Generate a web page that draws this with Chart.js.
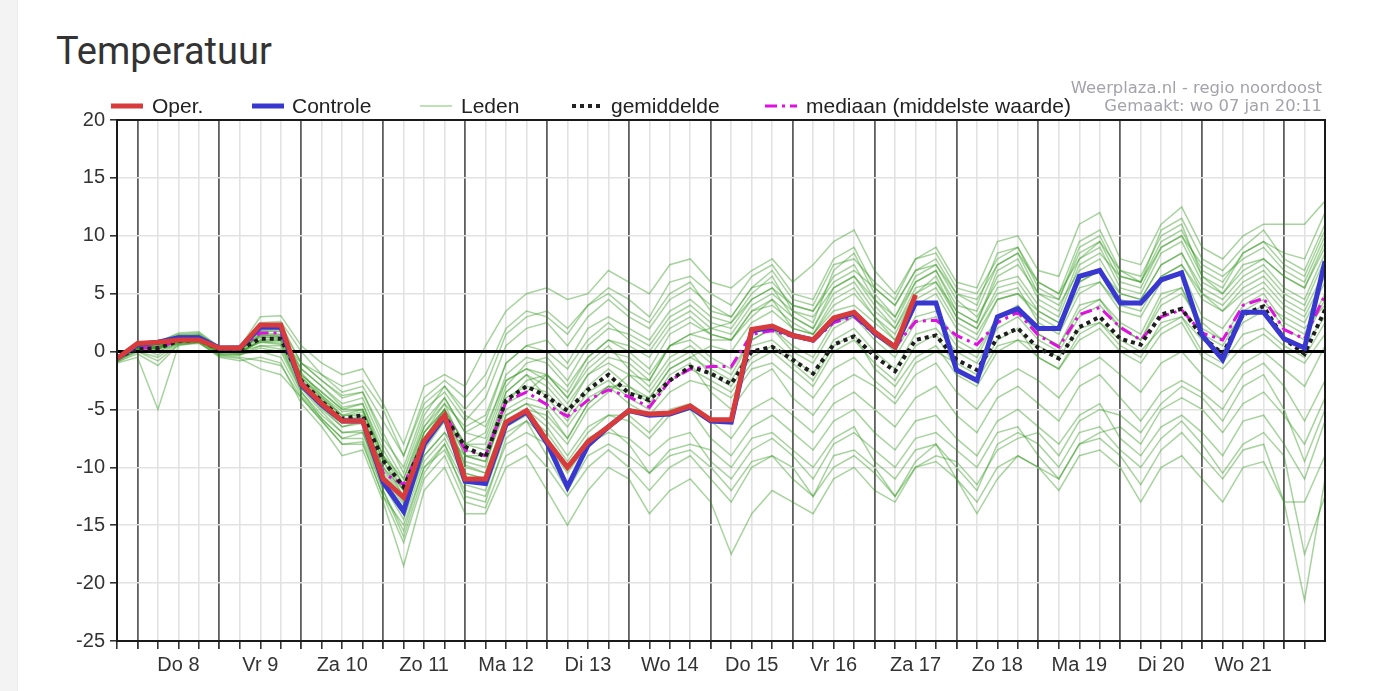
<!DOCTYPE html>
<html>
<head>
<meta charset="utf-8">
<script src="https://cdn.jsdelivr.net/npm/chart.js@4.4.1/dist/chart.umd.min.js"></script>
<style>
  html, body { margin: 0; padding: 0; background: #fff; }
  body { width: 1391px; height: 691px; position: relative; overflow: hidden; }
  .strip { position: absolute; left: 0; top: 0; width: 17px; height: 691px; background: #f3f3f3; border-right: 1px solid #ececec; }
  h1 { position: absolute; left: 56px; top: 29px; margin: 0; font: 400 38px Roboto, sans-serif; color: #333; }
  .wrap { position: absolute; left: 0; top: 0; width: 1391px; height: 691px; }
  .leg { position: absolute; top: 94px; height: 24px; line-height: 24px; font: 21px "Liberation Sans", Arial, sans-serif; color: #222; white-space: nowrap; }
  .leg svg { position: absolute; top: 0; }
  .src { position: absolute; right: 69px; font: 16.4px "DejaVu Sans", sans-serif; color: #a3a3ab; text-align: right; white-space: nowrap; }
</style>
</head>
<body>
<div class="strip"></div>
<h1>Temperatuur</h1>
<div class="wrap"><canvas id="tempChart"></canvas></div>

<div class="leg" style="left:111px"><svg width="32" height="24"><line x1="0" y1="12" x2="32" y2="12" stroke="#d73b3b" stroke-width="5"/></svg><span style="margin-left:41px">Oper.</span></div>
<div class="leg" style="left:252px"><svg width="32" height="24"><line x1="0" y1="12" x2="32" y2="12" stroke="#3838d0" stroke-width="5"/></svg><span style="margin-left:40px">Controle</span></div>
<div class="leg" style="left:420px"><svg width="32" height="24"><line x1="0" y1="12" x2="32" y2="12" stroke="#a8d89a" stroke-width="1.5"/></svg><span style="margin-left:41px">Leden</span></div>
<div class="leg" style="left:572px"><svg width="32" height="24"><line x1="0" y1="12" x2="32" y2="12" stroke="#222" stroke-width="4" stroke-dasharray="4 4"/></svg><span style="margin-left:39px">gemiddelde</span></div>
<div class="leg" style="left:765px"><svg width="32" height="24"><line x1="0" y1="12" x2="32" y2="12" stroke="#e010e0" stroke-width="3" stroke-dasharray="12 5 3 5"/></svg><span style="margin-left:41px">mediaan (middelste waarde)</span></div>

<div class="src" style="top:78px">Weerplaza.nl - regio noordoost</div>
<div class="src" style="top:96px">Gemaakt: wo 07 jan 20:11</div>

<script>
// tijdstappen: elke 6 uur, vanaf wo 7 jan 18:00
const steps = 60;
const dayLabels = ['Do 8', 'Vr 9', 'Za 10', 'Zo 11', 'Ma 12', 'Di 13', 'Wo 14',
  'Do 15', 'Vr 16', 'Za 17', 'Zo 18', 'Ma 19', 'Di 20', 'Wo 21'];
const yTicks = [-25, -20, -15, -10, -5, 0, 5, 10, 15, 20];

// operationele run (stopt za 17 12:00)
const oper = [-0.6, 0.7,0.8,1.0,1.0, 0.3,0.3,2.3,2.3, -2.8,-4.5,-6.0,-6.0,
  -11.0,-12.6,-7.7,-5.5, -11.0,-11.0,-6.1,-5.1, -7.7,-10.0,-7.8,-6.5,
  -5.1,-5.4,-5.3,-4.7, -5.9,-5.9,1.9,2.2, 1.4,1.0,2.9,3.4, 1.7,0.4,4.9];

const controle = [-0.6, 0.6,0.8,1.2,1.2, 0.3,0.3,2.1,2.1, -2.9,-4.6,-6.0,-6.0,
  -11.3,-13.8,-8.0,-5.6, -11.2,-11.4,-6.3,-5.2, -7.9,-11.7,-8.1,-6.5,
  -5.1,-5.5,-5.4,-4.8, -6.0,-6.1,1.8,2.1, 1.4,1.0,2.8,3.3, 1.6,0.4,4.2,
  4.2,-1.6,-2.5,3.0, 3.7,2.0,2.0,6.5, 7.0,4.2,4.2,6.2, 6.8,1.4,-0.7,3.4,
  3.4,1.1,0.3,7.8];

const gemiddelde = [-0.5, 0.2,0.3,0.9,1.0, 0.2,0.2,1.1,1.1, -2.5,-4.3,-5.8,-5.5,
  -9.4,-11.7,-7.7,-5.6, -8.2,-9.1,-4.2,-3.0, -3.9,-5.1,-3.3,-2.0,
  -3.6,-4.2,-2.5,-1.3, -1.9,-2.8,0.0,0.4, -0.7,-1.9,0.6,1.3, -0.4,-1.7,1.0,
  1.4,-0.7,-1.6,1.2, 2.0,0.3,-0.6,2.1, 3.0,1.1,0.6,3.2, 3.7,1.3,-0.2,3.2,
  3.9,1.1,-0.2,3.6];

const mediaan = [-0.5, 0.3,0.3,1.0,1.1, 0.3,0.3,1.6,1.6, -2.6,-4.5,-6.0,-6.0,
  -10.5,-11.5,-7.7,-5.3, -8.5,-9.0,-4.3,-3.5, -4.6,-5.6,-4.2,-3.3,
  -3.9,-4.8,-2.5,-1.5, -1.3,-1.3,1.5,1.8, 1.3,0.9,2.5,3.0, 1.5,0.4,2.6,
  2.7,1.4,0.6,2.5, 3.4,1.4,0.4,3.2, 3.8,2.1,1.0,3.0, 3.6,1.6,1.0,4.0,
  4.6,1.9,1.1,4.9];

// ensembleleden
const leden = [
  [-0.8, 0.8,0.9,1.5,1.6, 0.3,0.4,3.0,3.1, 0.5,-1.0,-2.0,-1.5, -4.5,-8.0,-3.0,-2.0,
   -3.0,0.5,3.5,5.0, 5.5,4.5,5.0,7.0, 6.0,5.0,7.5,8.0, 6.0,5.5,7.0,8.0,
   6.0,7.5,9.5,10.5, 7.0,5.0,8.0,9.0, 6.0,5.5,9.5,10.0, 7.0,6.5,11.0,12.0,
   8.0,7.5,11.0,12.5, 9.0,8.0,10.0,11.0, 11.0,11.0,13.0],
  [-0.7, 0.6,0.7,1.3,1.4, 0.1,0.2,2.5,2.6, 0.0,-2.0,-3.5,-3.0, -6.0,-9.0,-4.0,-2.5,
   -4.0,-2.0,2.0,3.5, 3.0,1.5,4.0,5.5, 4.5,3.0,6.0,6.5, 5.0,4.0,6.5,7.5,
   5.0,4.5,8.0,9.0, 5.5,4.0,7.0,8.0, 5.0,4.0,8.5,9.0, 6.0,5.0,9.5,10.5,
   7.0,6.0,10.5,11.5, 8.0,7.0,9.0,10.5, 8.0,7.0,11.0],
  [-0.5, 0.7,0.6,1.4,1.5, 0.4,0.3,2.0,2.1, -1.0,-2.5,-4.0,-3.5, -7.5,-10.0,-5.0,-3.5,
   -6.0,-4.0,0.5,2.0, 2.5,0.5,3.0,4.5, 3.0,2.0,4.5,5.5, 4.0,3.0,5.5,6.0,
   4.0,3.5,6.5,7.5, 4.5,2.5,6.0,7.0, 3.5,2.5,7.0,8.0, 4.5,3.5,8.0,9.0,
   5.5,5.0,8.5,9.5, 6.0,5.0,7.5,8.0, 6.5,5.5,9.5],
  [-0.6, 0.4,0.5,1.1,1.2, 0.2,0.1,1.8,1.7, -1.5,-3.0,-4.5,-4.0, -8.0,-11.0,-6.5,-4.0,
   -7.0,-6.0,-1.0,0.5, 1.0,-1.0,2.0,3.0, 2.0,1.0,3.5,4.5, 3.0,2.5,5.0,6.5,
   3.5,2.5,7.0,8.5, 5.0,3.0,6.5,7.5, 4.5,3.0,6.0,6.5, 4.0,3.0,7.5,8.5,
   6.5,6.0,9.0,10.0, 7.5,6.5,8.0,9.0, 7.0,6.0,10.0],
  [-0.8, 0.3,0.2,1.0,1.1, -0.2,-0.2,1.0,1.0, -2.0,-3.5,-5.0,-5.0, -9.0,-12.0,-7.5,-5.0,
   -8.0,-8.0,-3.0,-1.0, -0.5,-2.5,0.5,2.0, 1.5,0.5,3.0,4.0, 2.5,2.0,4.5,5.5,
   3.0,2.0,5.5,6.5, 4.0,2.0,5.0,6.5, 3.0,2.0,5.5,6.0, 3.5,2.5,6.0,7.0,
   5.0,4.5,7.5,8.5, 5.0,4.0,6.0,7.0, 5.0,4.0,8.0],
  [-0.6, 0.5,0.4,1.2,1.3, 0.3,0.3,1.6,1.5, -1.8,-3.8,-5.5,-5.0, -9.5,-12.5,-8.0,-5.5,
   -9.0,-9.5,-4.5,-2.5, -2.0,-3.5,-0.5,1.0, 0.5,-0.5,2.0,3.0, 1.5,1.0,3.5,4.0,
   2.5,1.5,4.5,5.5, 3.0,1.0,4.5,5.5, 2.5,1.5,4.5,5.0, 3.0,2.0,5.5,6.0,
   4.0,3.5,6.5,7.5, 4.5,3.5,5.0,6.0, 4.0,3.0,6.5],
  [-0.7, 0.6,0.7,1.3,1.3, 0.4,0.4,2.2,2.2, -2.5,-4.2,-5.8,-5.8, -10.5,-13.0,-7.5,-5.0,
   -10.0,-10.5,-5.5,-4.5, -6.0,-8.0,-5.0,-3.5, -2.0,-2.5,0.5,1.5, 2.0,1.5,4.0,5.0,
   3.5,3.0,5.5,6.5, 4.5,3.0,6.0,7.0, 4.0,3.5,7.5,8.5, 6.0,5.0,8.0,9.5,
   6.0,5.5,9.0,10.0, 6.5,5.0,7.0,8.0, 6.5,5.5,9.0],
  [-0.5, 0.5,0.6,1.4,1.4, 0.2,0.3,1.8,1.8, -2.2,-4.0,-5.5,-5.5, -10.0,-12.0,-7.0,-4.5,
   -8.5,-9.0,-3.5,-2.0, -3.0,-5.0,-2.0,-0.5, -1.0,-2.5,0.5,1.5, 1.0,1.0,3.5,4.5,
   2.0,1.5,4.0,5.0, 3.0,1.5,5.0,6.0, 3.5,2.5,6.5,7.5, 5.0,4.0,7.0,8.0,
   5.0,4.5,7.5,8.5, 5.5,4.5,6.5,7.5, 5.5,4.5,8.5],
  [-0.6, 0.6,0.6,1.3,1.4, 0.3,0.2,2.0,1.9, -2.6,-4.4,-6.0,-5.9, -10.8,-13.2,-7.8,-5.6,
   -10.5,-11.0,-6.0,-5.0, -5.5,-7.5,-4.5,-3.0, -3.5,-4.0,-1.5,-0.5, 0.5,0.0,2.5,3.5,
   2.0,1.5,3.5,4.0, 2.5,1.0,4.0,5.0, 2.0,1.0,4.5,5.0, 3.5,2.5,6.0,7.0,
   4.5,4.0,6.5,7.5, 5.0,3.5,5.5,6.5, 4.5,3.5,7.0],
  [-0.7, 0.5,0.4,1.1,1.2, 0.1,0.1,1.5,1.4, -1.5,-3.0,-4.8,-4.5, -8.5,-11.5,-6.5,-4.5,
   -6.5,-5.5,-1.0,0.5, 0.0,-1.5,1.0,2.5, 1.0,0.0,2.5,3.5, 2.0,2.5,4.5,5.5,
   4.0,3.5,6.0,7.0, 5.5,4.0,7.0,7.5, 5.0,4.5,7.5,8.5, 5.0,4.5,8.5,9.5,
   7.0,6.5,10.0,11.0, 6.5,5.5,8.5,9.5, 8.5,8.0,12.0],
  [-0.5, 0.7,0.8,1.6,1.7, 0.4,0.5,2.4,2.4, -1.0,-2.5,-3.8,-3.5, -7.0,-10.5,-5.5,-3.0,
   -5.0,-3.0,1.5,3.0, 3.5,2.0,4.0,5.0, 3.5,2.5,5.0,6.0, 3.5,3.0,5.5,7.0,
   4.5,4.0,7.5,8.0, 6.0,4.5,8.0,8.5, 5.5,5.0,8.0,9.0, 5.5,4.5,9.0,10.0,
   6.5,6.0,9.5,10.5, 7.0,6.0,8.5,9.5, 7.5,6.5,10.5],
  [-0.6, 0.3,0.3,1.0,1.1, 0.0,0.1,1.4,1.3, -2.2,-3.8,-5.2,-5.0, -9.0,-11.5,-7.0,-5.0,
   -8.0,-7.0,-2.0,-0.5, -1.0,-3.0,-0.5,1.0, 0.0,-1.5,1.5,2.5, 1.5,1.0,3.0,4.5,
   3.0,2.0,5.0,6.0, 3.5,2.0,5.5,6.0, 3.0,2.0,5.0,5.5, 2.5,1.5,5.0,6.0,
   3.5,3.0,6.0,7.0, 3.0,2.0,4.5,5.5, 3.5,2.5,6.0],
  [-0.6, 0.4,0.4,1.0,1.1, 0.1,0.1,1.2,1.2, -2.8,-4.5,-6.0,-5.8, -10.0,-12.5,-8.0,-6.0,
   -9.5,-10.0,-4.0,-3.0, -3.5,-5.5,-3.0,-1.5, -3.0,-4.0,-1.5,-0.5, -1.5,-2.5,0.5,1.0,
   -0.5,-2.0,1.0,2.0, 0.0,-1.5,1.5,2.0, 0.0,-1.0,2.0,3.0, 1.0,0.0,3.0,4.0,
   2.0,1.0,4.0,5.0, 2.5,1.0,4.0,5.0, 2.5,1.5,5.0],
  [-0.5, 0.2,0.3,0.8,0.9, 0.0,0.0,0.8,0.9, -3.0,-5.0,-6.5,-6.0, -11.0,-13.5,-8.5,-6.0,
   -8.0,-8.5,-3.5,-2.0, -4.0,-6.0,-3.5,-2.5, -4.0,-5.0,-2.5,-1.5, -2.5,-3.5,-1.0,0.0,
   -1.5,-3.0,0.0,1.0, -1.0,-2.5,0.5,1.5, -1.5,-2.5,0.5,1.0, -0.5,-1.5,1.5,2.5,
   0.5,-0.5,2.5,3.0, 1.0,0.0,2.5,3.5, 1.0,0.5,3.0],
  [-0.7, 0.3,-0.3,0.8,1.0, -0.3,-0.3,0.5,0.5, -3.5,-5.5,-7.0,-7.0, -11.5,-14.0,-9.0,-7.0,
   -9.0,-9.0,-4.5,-3.5, -2.0,-4.0,-1.0,0.5, -1.5,-3.0,-0.5,0.5, -1.0,-2.0,1.0,2.0,
   0.0,-1.0,2.0,3.0, 1.0,-0.5,2.5,3.0, 0.5,-0.5,3.0,3.5, 1.5,0.5,3.5,4.5,
   2.5,1.5,5.0,5.5, 2.0,1.0,3.0,4.0, 3.0,2.0,4.0],
  [-0.6, 0.5,0.5,1.1,1.2, 0.2,0.2,1.4,1.3, -2.0,-3.5,-5.0,-4.5, -9.0,-11.0,-6.0,-4.0,
   -7.0,-7.5,-2.5,-1.5, -2.5,-4.5,-2.0,-1.0, -2.0,-3.5,-1.0,0.0, -2.0,-3.0,-0.5,0.5,
   -1.0,-2.5,0.5,1.5, -1.5,-3.0,-0.5,0.5, -2.0,-3.0,0.0,1.0, 0.5,-0.5,2.0,2.5,
   1.0,0.0,2.0,3.0, 0.0,-1.0,1.5,2.0, 0.5,-0.5,2.5],
  [-0.8, 0.1,0.0,0.7,0.8, -0.1,0.0,1.0,1.0, -2.4,-4.0,-5.6,-5.2, -9.5,-12.0,-7.0,-5.0,
   -9.0,-9.5,-5.0,-4.0, -4.5,-6.5,-4.0,-3.0, -4.5,-5.5,-3.5,-2.5, -3.0,-4.0,-1.5,-1.0,
   -2.5,-4.0,-1.5,-0.5, -2.5,-4.0,-1.0,0.0, -1.0,-2.0,1.0,2.0, -0.5,-1.5,1.0,2.0,
   0.0,-1.0,1.5,2.5, -0.5,-1.5,0.5,1.5, 0.0,-1.0,1.5],
  [-0.7, 0.4,0.2,0.9,1.0, 0.0,-0.1,0.9,0.7, -2.6,-4.2,-5.8,-5.6, -10.2,-12.8,-7.8,-5.8,
   -9.8,-10.5,-5.5,-4.5, -5.0,-7.5,-4.5,-3.0, -3.0,-4.5,-2.0,-1.0, -3.5,-5.0,-2.5,-1.5,
   -4.0,-5.5,-3.0,-2.0, -3.0,-4.5,-2.0,-1.0, -3.5,-5.0,-2.5,-1.5, -2.5,-4.0,-1.5,-0.5,
   -2.0,-3.5,-1.0,0.0, -2.0,-3.5,-1.0,0.0, -1.5,-3.0,0.5],
  [-0.5, 0.5,0.3,1.2,1.2, 0.2,0.2,1.3,1.1, -1.0,-2.0,-3.0,-2.5, -5.0,-9.0,-4.5,-3.0,
   -5.5,-6.5,-2.5,-1.5, -2.0,-4.0,-1.5,0.0, -0.5,-2.0,0.5,1.0, -0.5,-1.5,1.0,2.0,
   0.5,-0.5,2.5,3.0, 1.5,0.0,3.0,3.5, 1.0,0.0,3.0,4.0, 1.5,0.5,4.0,4.5,
   2.0,1.0,4.5,5.5, 1.5,0.5,3.5,4.5, 2.0,1.0,4.5],
  [-1.0, -0.5,-5.0,0.5,0.8, -0.5,-0.8,-0.5,-1.0, -4.5,-6.5,-9.0,-8.5, -13.0,-18.5,-12.0,-10.0,
   -14.0,-14.0,-10.0,-9.0, -12.0,-15.0,-12.0,-10.0, -11.0,-14.0,-12.0,-11.0, -13.0,-17.5,-14.0,-12.0,
   -13.0,-14.0,-11.0,-10.0, -12.0,-13.0,-10.0,-9.5, -11.0,-13.0,-10.0,-9.0, -10.0,-12.0,-9.0,-8.5,
   -10.0,-13.0,-10.0,-9.0, -11.0,-13.0,-10.0,-9.5, -13.0,-21.5,-11.0],
  [-0.9, -0.2,-1.2,0.6,0.8, -0.4,-0.6,-1.5,-2.0, -4.0,-6.0,-8.0,-8.0, -12.5,-16.5,-11.0,-9.0,
   -13.0,-13.5,-9.0,-8.0, -10.0,-12.5,-10.0,-8.5, -10.0,-12.0,-10.0,-9.0, -11.0,-13.0,-10.0,-9.0,
   -10.0,-12.5,-9.0,-8.5, -10.0,-12.5,-9.5,-8.0, -10.0,-12.0,-8.0,-7.0, -8.0,-10.0,-7.0,-6.5,
   -8.5,-10.0,-7.5,-6.0, -8.0,-10.5,-8.0,-7.0, -9.0,-17.5,-12.5],
  [-0.7, 0.0,-0.5,0.7,0.9, 0.0,-0.2,0.0,-0.5, -3.8,-5.8,-7.5,-7.5, -12.0,-15.5,-10.0,-8.5,
   -12.0,-12.5,-8.0,-7.0, -8.0,-10.5,-8.0,-7.0, -7.5,-9.0,-7.5,-7.0, -9.5,-11.0,-8.5,-7.5,
   -9.0,-11.0,-8.0,-7.0, -8.5,-10.0,-7.5,-7.0, -8.5,-10.0,-7.0,-6.5, -9.0,-11.0,-8.0,-7.5,
   -9.0,-11.5,-8.5,-7.0, -9.0,-11.0,-8.5,-8.0, -13.0,-13.0,-9.0],
  [-0.6, 0.3,0.2,0.9,1.0, 0.0,0.0,0.5,0.2, -3.2,-5.2,-7.0,-6.8, -11.5,-14.5,-9.5,-7.5,
   -11.0,-11.5,-6.5,-5.5, -7.0,-9.5,-7.0,-5.5, -6.0,-7.5,-5.5,-5.0, -7.5,-9.0,-6.5,-5.5,
   -7.0,-8.5,-6.0,-5.0, -7.0,-8.5,-6.0,-5.5, -7.5,-9.0,-6.0,-5.0, -6.5,-8.0,-5.5,-4.5,
   -7.5,-9.0,-6.5,-5.5, -7.0,-9.0,-6.0,-5.5, -8.0,-11.0,-6.0],
  [-0.8, 0.2,0.0,0.8,0.9, -0.2,-0.3,0.3,0.0, -3.5,-5.8,-7.5,-7.0, -12.0,-16.0,-10.5,-8.0,
   -12.5,-13.0,-7.5,-6.0, -9.0,-12.0,-9.0,-8.0, -9.0,-10.5,-8.5,-8.0, -8.5,-10.0,-7.5,-7.0,
   -8.5,-10.0,-7.5,-6.5, -9.5,-11.0,-8.5,-8.0, -11.0,-14.0,-11.0,-9.0, -10.0,-11.0,-8.0,-7.0,
   -6.5,-8.0,-5.0,-4.0, -5.0,-7.0,-4.5,-3.5, -5.5,-8.0,-4.0],
  [-0.7, 0.4,0.3,1.0,1.1, 0.1,0.0,0.8,0.6, -3.0,-4.8,-6.5,-6.2, -11.0,-14.0,-9.0,-7.0,
   -10.5,-11.0,-6.0,-5.0, -6.5,-9.0,-6.5,-5.5, -5.5,-7.0,-5.0,-4.5, -6.0,-7.5,-5.0,-4.0,
   -5.5,-7.0,-4.5,-3.5, -5.0,-6.5,-4.0,-3.0, -5.5,-7.0,-4.0,-3.0, -4.5,-6.0,-3.0,-2.0,
   -4.0,-6.0,-3.5,-2.5, -3.5,-5.0,-2.0,-1.0, -3.0,-6.0,-2.5],
  [-0.9, 0.0,-0.8,0.6,0.7, -0.3,-0.5,-0.8,-1.2, -4.0,-6.0,-8.0,-7.8, -12.5,-15.0,-10.0,-8.0,
   -11.5,-12.0,-7.0,-6.0, -7.5,-10.0,-7.5,-6.5, -8.0,-10.5,-9.0,-8.5, -10.0,-12.0,-9.5,-9.0,
   -11.0,-12.5,-10.0,-9.0, -10.5,-12.5,-10.0,-9.0, -9.5,-11.5,-8.5,-7.5, -7.0,-9.0,-6.0,-5.0,
   -5.5,-7.0,-4.5,-3.0, -4.0,-6.0,-3.0,-2.0, -5.0,-9.5,-5.0]
];

const FONT = '"Liberation Sans", Arial, sans-serif';

function toPoints(arr) {
  return arr.map((v, i) => ({ x: i, y: v }));
}

const datasets = [
  { label: 'Oper.', data: toPoints(oper), borderColor: '#d73b3b', borderWidth: 5 },
  { label: 'Controle', data: toPoints(controle), borderColor: '#3838d0', borderWidth: 5 },
  { label: 'gemiddelde', data: toPoints(gemiddelde), borderColor: '#1e1e1e', borderWidth: 4, borderDash: [4, 4] },
  { label: 'mediaan', data: toPoints(mediaan), borderColor: '#e010e0', borderWidth: 3, borderDash: [12, 5, 3, 5] }
];
leden.forEach(function (lid, n) {
  datasets.push({ label: 'Leden ' + (n + 1), data: toPoints(lid), borderColor: 'rgba(45,150,25,0.42)', borderWidth: 1.5 });
});

// nul-lijn tussen leden en hoofdlijnen, kader rondom
const framePlugin = {
  id: 'frame',
  beforeDatasetDraw(chart, args) {
    if (args.index !== 3) return;
    const ca = chart.chartArea, y0 = chart.scales.y.getPixelForValue(0);
    const ctx = chart.ctx;
    ctx.save();
    ctx.strokeStyle = '#000';
    ctx.lineWidth = 3;
    ctx.beginPath();
    ctx.moveTo(ca.left, y0);
    ctx.lineTo(ca.right, y0);
    ctx.stroke();
    ctx.restore();
  },
  afterDraw(chart) {
    const ca = chart.chartArea, ctx = chart.ctx;
    ctx.save();
    ctx.strokeStyle = '#1a1a1a';
    ctx.lineWidth = 2;
    ctx.strokeRect(ca.left, ca.top, ca.right - ca.left, ca.bottom - ca.top);
    ctx.restore();
  }
};

new Chart(document.getElementById('tempChart'), {
  type: 'line',
  data: { datasets: datasets },
  plugins: [framePlugin],
  options: {
    responsive: true,
    maintainAspectRatio: false,
    animation: false,
    layout: { padding: { top: 120, right: 66, bottom: 0, left: 0 } },
    elements: { point: { radius: 0 }, line: { tension: 0, fill: false } },
    plugins: { legend: { display: false }, tooltip: { enabled: false }, title: { display: false } },
    scales: {
      x: {
        type: 'linear', min: 0, max: steps - 1,
        afterBuildTicks: function (s) {
          s.ticks = Array.from({ length: steps }, (_, i) => ({ value: i }));
        },
        afterFit: function (s) { s.height = 50; },
        grid: {
          color: c => ((c.tick.value - 1) % 4 === 0 ? '#5e5e5e' : '#e2e2e2'),
          lineWidth: c => ((c.tick.value - 1) % 4 === 0 ? 1.8 : 1.6),
          tickColor: '#333',
          tickLength: 8
        },
        border: { color: '#1a1a1a', width: 2 },
        ticks: {
          autoSkip: false, maxRotation: 0, padding: 4,
          color: '#333', font: { family: FONT, size: 20 },
          callback: v => ((v - 3) % 4 === 0 ? dayLabels[(v - 3) / 4] : '')
        }
      },
      y: {
        min: -25, max: 20,
        afterBuildTicks: function (s) {
          s.ticks = yTicks.map(v => ({ value: v }));
        },
        afterFit: function (s) { s.width = 117; },
        grid: { color: '#e2e2e2', lineWidth: 1.6, tickColor: '#333', tickLength: 7 },
        border: { color: '#1a1a1a', width: 2 },
        ticks: { color: '#333', padding: 5, font: { family: FONT, size: 20 } }
      }
    }
  }
});
</script>
</body>
</html>
